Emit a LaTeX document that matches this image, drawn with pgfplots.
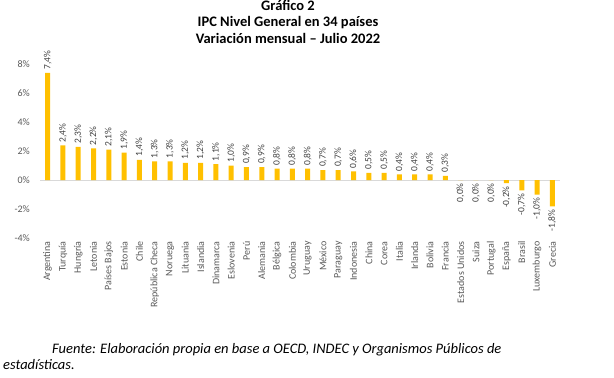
\documentclass[border=0pt]{standalone}
\usepackage{fontspec}
\setmainfont{Carlito}
\usepackage{pgfplots}
\pgfplotsset{compat=1.18}
\definecolor{bargold}{HTML}{FFC000}
\definecolor{ticktxt}{HTML}{595959}
\definecolor{lbltxt}{HTML}{404040}
\definecolor{zeroline}{HTML}{D9D9D9}
\begin{document}
\begin{tikzpicture}
\begin{axis}[
  name=main,
  scale only axis, width=520pt, height=174pt,
  xmin=-0.5, xmax=33.5, ymin=-4, ymax=8,
  axis line style={draw=none},
  ytick={-4,-2,0,2,4,6,8},
  xtick={0,...,33},
  xticklabels={Argentina,Turquía,Hungría,Letonia,Países Bajos,Estonia,Chile,República Checa,Noruega,Lituania,Islandia,Dinamarca,Eslovenia,Perú,Alemania,Bélgica,Colombia,Uruguay,México,Paraguay,Indonesia,China,Corea,Italia,Irlanda,Bolivia,Francia,Estados Unidos,Suiza,Portugal,España,Brasil,Luxemburgo,Grecia},
  xticklabel style={rotate=90, anchor=east, font=\fontsize{10}{12}\selectfont, text=ticktxt, inner sep=3pt},
  yticklabel style={font=\fontsize{10}{12}\selectfont, text=ticktxt, anchor=east, inner sep=0pt, xshift=-10pt},
  yticklabel={\pgfmathprintnumber{\tick}\%},
  /pgf/number format/assume math mode=true,
  major tick length=0pt,
  ybar, bar width=5pt, bar shift=0pt,
  clip=false,
  nodes near coords={\pgfmathprintnumber[fixed,fixed zerofill,precision=1,use comma,assume math mode=true]{\pgfplotspointmeta}\%},
  every node near coord/.append style={font=\fontsize{9.5}{11}\selectfont, text=lbltxt, rotate=90, inner sep=3pt},
]
\draw[zeroline, line width=0.8pt] (axis cs:-0.5,0) -- (axis cs:33.5,0);
\addplot[fill=bargold, draw=none, nodes near coords style={anchor=west}] coordinates {
(0,7.4) (1,2.4) (2,2.3) (3,2.2) (4,2.1) (5,1.9) (6,1.4) (7,1.3) (8,1.3) (9,1.2) (10,1.2) (11,1.1) (12,1.0) (13,0.9) (14,0.9) (15,0.8) (16,0.8) (17,0.8) (18,0.7) (19,0.7) (20,0.6) (21,0.5) (22,0.5) (23,0.4) (24,0.4) (25,0.4) (26,0.3)
};
\addplot[fill=bargold, draw=none, nodes near coords style={anchor=east}] coordinates {
(27,0.0) (28,0.0) (29,0.0) (30,-0.2) (31,-0.7) (32,-1.0) (33,-1.8)
};
\end{axis}
\begin{scope}[shift={(main.south west)}, shift={(-40pt,-139pt)}]
\path (0pt,0pt) rectangle (614pt,376pt);
\begin{scope}[font=\fontsize{14.5}{16}\selectfont\bfseries]
\node[anchor=base, inner sep=0pt] at (288pt,367pt) {Gráfico 2};
\node[anchor=base, inner sep=0pt] at (288pt,350.5pt) {IPC Nivel General en 34 países};
\node[anchor=base, inner sep=0pt] at (288pt,334pt) {Variación mensual – Julio 2022};
\end{scope}
\begin{scope}[font=\fontsize{14.5}{16}\selectfont\itshape]
\node[anchor=base west, inner sep=0pt] at (52pt,24pt) {Fuente: Elaboración propia en base a OECD, INDEC y Organismos Públicos de};
\node[anchor=base west, inner sep=0pt] at (3pt,7.5pt) {estadísticas.};
\end{scope}
\end{scope}
\end{tikzpicture}
\end{document}
